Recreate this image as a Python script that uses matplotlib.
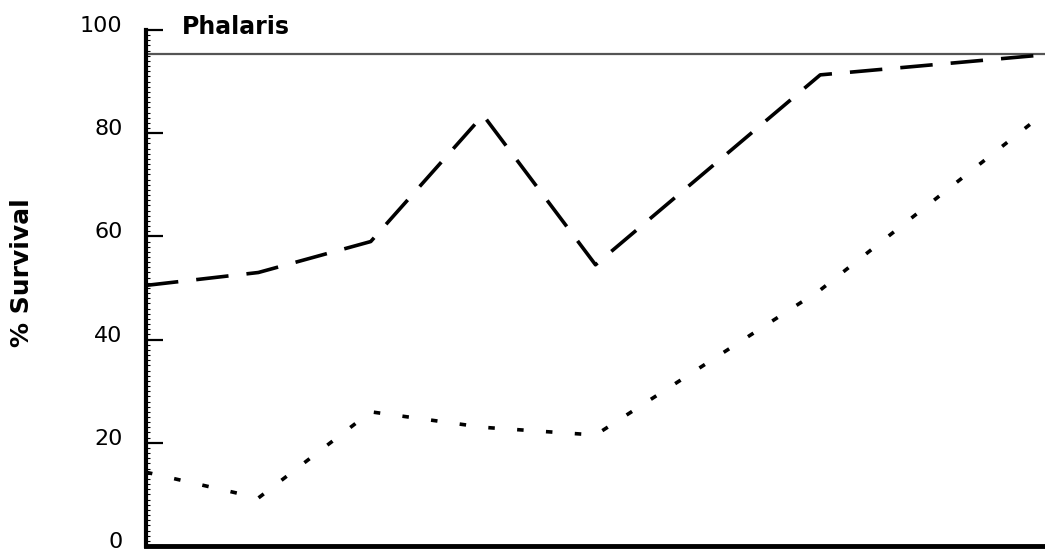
import numpy as np
import matplotlib
matplotlib.use('Agg')
from matplotlib import pyplot as plt
from matplotlib.ticker import MultipleLocator
from matplotlib.transforms import ScaledTranslation

# sampling times and % survival of the two treatments
weeks = [0, 1, 2, 3, 4, 6, 8]
dashed_surv = [50.5, 53, 59, 83.5, 54.5, 91.3, 95.2]
dotted_surv = [14.3, 9.3, 26, 23, 21.5, 49.6, 84]
ref_level = 95.3
yticks = [0, 20, 40, 60, 80, 100]

plt.rcParams['font.family'] = ['DejaVu Sans']

fig = plt.figure(figsize=(10.45, 5.5), dpi=100)
ax = fig.add_axes([0.1397, 0.0073, 0.8603, 0.9382])

ax.axhline(ref_level, color='#555555', lw=1.6, zorder=1)
ax.plot(weeks, dashed_surv, color='black', lw=2.6, dashes=(9, 5), clip_on=False)
ax.plot(weeks, dotted_surv, color='black', lw=2.6, dashes=(1.8, 6.2), clip_on=False)

ax.set_xlim(0, 8)
ax.set_ylim(0, 100)
ax.set_xticks([])
ax.set_yticks(yticks)
ax.set_yticklabels([str(v) for v in yticks])
ax.yaxis.set_minor_locator(MultipleLocator(1))
ax.tick_params(axis='y', which='major', direction='in', length=12, width=1.6,
               pad=17, labelsize=16)
ax.tick_params(axis='y', which='minor', direction='in', length=3, width=0.8)

# numbers sit a little above their ticks
up = ScaledTranslation(0, 6 / 100, fig.dpi_scale_trans)
for lbl in ax.get_yticklabels():
    lbl.set_transform(lbl.get_transform() + up)

for s in ['top', 'right']:
    ax.spines[s].set_visible(False)
ax.spines['left'].set_linewidth(3)
ax.spines['bottom'].set_linewidth(3.5)

ax.set_ylabel('% Survival', fontsize=18, fontweight='bold')
ax.yaxis.set_label_coords(-0.125, 0.53)
ax.text(0.32, 100.6, 'Phalaris', fontsize=17, fontweight='bold', va='center')

plt.savefig('out.png', dpi=100)
